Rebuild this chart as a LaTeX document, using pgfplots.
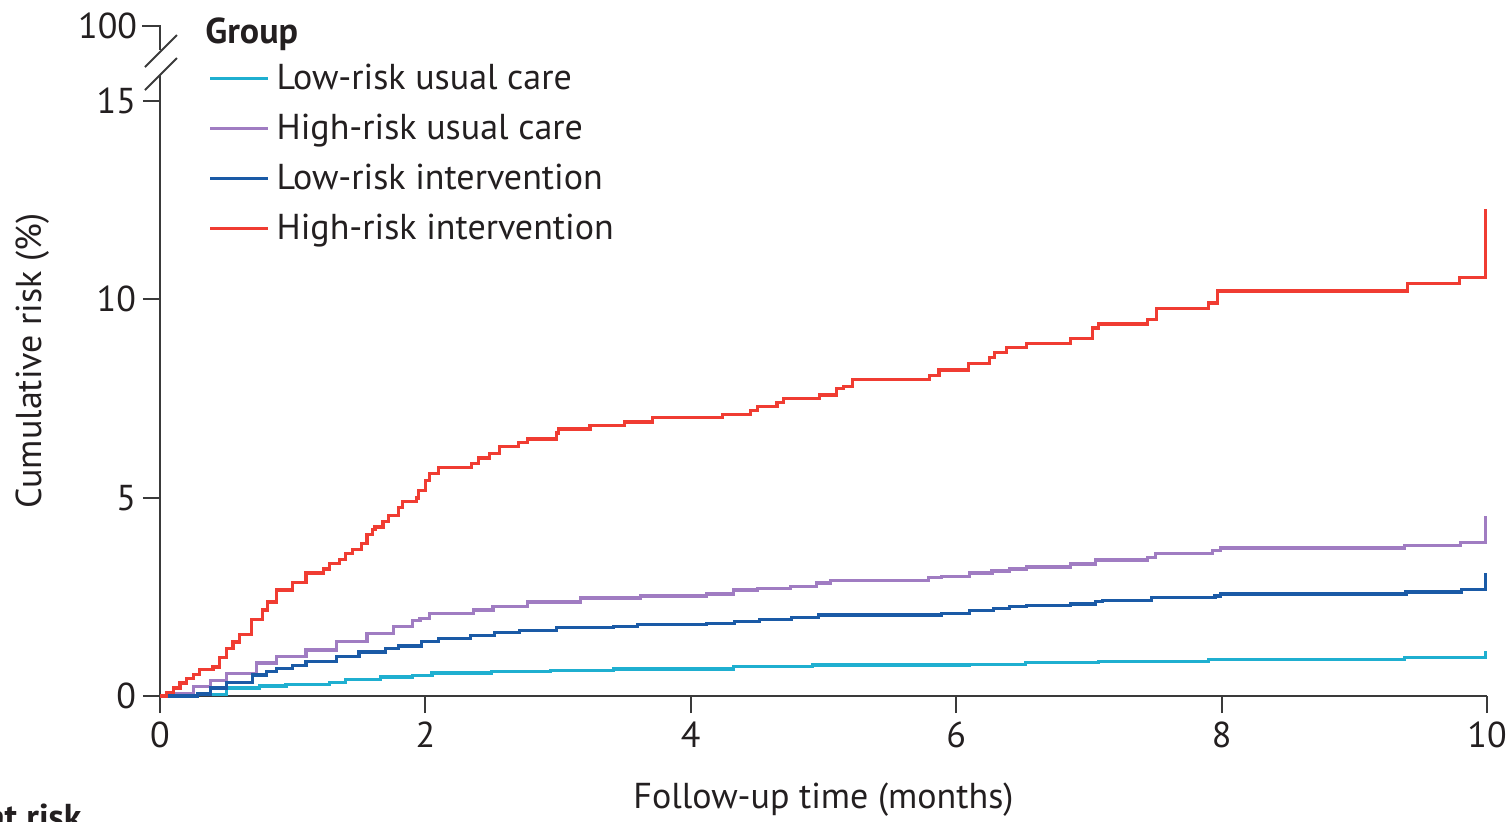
\documentclass[border=0pt]{standalone}
\usepackage{fontspec}
\setmainfont{PT Sans}
\usepackage{pgfplots}
\usepackage{pgfplotstable}
\pgfplotsset{compat=1.18}
\definecolor{axiscol}{HTML}{3A3A3A}
\definecolor{txtcol}{HTML}{231F20}
\definecolor{cLRU}{HTML}{1FAFD0}
\definecolor{cHRU}{HTML}{A07CC2}
\definecolor{cLRI}{HTML}{1A5AA6}
\definecolor{cHRI}{HTML}{F03C32}

\pgfplotstableread{
t v
0 0
0.28 0.04
0.5 0.2
0.75 0.25
0.95 0.3
1.28 0.35
1.4 0.42
1.66 0.48
1.9 0.52
2.05 0.58
2.5 0.61
2.94 0.65
3.42 0.68
4.32 0.74
4.92 0.78
6.1 0.8
6.52 0.84
7.07 0.86
7.5 0.88
7.9 0.93
9.38 0.97
9.99 1.13
}\lowusual

\pgfplotstableread{
t v
0 0
0.12 0.06
0.25 0.23
0.38 0.4
0.5 0.57
0.73 0.83
0.88 0.99
1.1 1.16
1.33 1.37
1.56 1.58
1.76 1.75
1.9 1.9
1.96 1.96
2.03 2.08
2.36 2.17
2.51 2.25
2.77 2.37
3.17 2.47
3.62 2.52
4.12 2.57
4.32 2.67
4.5 2.72
4.75 2.77
4.95 2.85
5.05 2.92
5.79 2.98
5.89 3.02
6.1 3.1
6.27 3.15
6.4 3.2
6.53 3.25
6.86 3.33
7.05 3.43
7.44 3.5
7.5 3.6
7.93 3.66
7.99 3.73
9.38 3.8
9.8 3.86
9.99 4.55
}\highusual

\pgfplotstableread{
t v
0 0
0.28 0.05
0.38 0.2
0.5 0.35
0.7 0.53
0.8 0.61
0.88 0.7
1.0 0.76
1.1 0.86
1.33 0.99
1.5 1.11
1.7 1.2
1.8 1.26
1.97 1.37
2.1 1.45
2.34 1.53
2.52 1.6
2.71 1.66
2.99 1.73
3.42 1.76
3.6 1.8
4.12 1.83
4.33 1.87
4.52 1.93
4.76 1.98
4.96 2.04
5.89 2.09
6.1 2.15
6.28 2.21
6.4 2.25
6.53 2.29
6.86 2.32
7.05 2.38
7.1 2.4
7.47 2.48
7.95 2.52
7.99 2.57
9.39 2.62
9.81 2.69
9.99 3.1
}\lowint

\pgfplotstableread{
t v
0 0
0.05 0.08
0.1 0.2
0.15 0.33
0.2 0.45
0.25 0.55
0.3 0.66
0.4 0.73
0.45 0.98
0.5 1.2
0.55 1.36
0.6 1.56
0.69 1.92
0.77 2.17
0.81 2.37
0.88 2.67
1.0 2.87
1.1 3.1
1.23 3.2
1.28 3.35
1.35 3.45
1.4 3.6
1.45 3.7
1.52 3.85
1.56 4.08
1.6 4.2
1.62 4.26
1.68 4.4
1.72 4.56
1.8 4.75
1.83 4.9
1.93 4.99
1.95 5.19
2.0 5.44
2.03 5.6
2.1 5.77
2.35 5.87
2.4 6.0
2.48 6.12
2.56 6.3
2.7 6.4
2.77 6.48
2.99 6.63
3.0 6.73
3.24 6.81
3.5 6.91
3.71 7.02
4.24 7.1
4.45 7.2
4.5 7.29
4.65 7.4
4.7 7.5
4.97 7.59
5.1 7.75
5.15 7.81
5.22 7.97
5.8 8.07
5.87 8.22
6.09 8.39
6.25 8.53
6.29 8.65
6.38 8.78
6.53 8.89
6.86 9.02
7.03 9.28
7.07 9.38
7.44 9.5
7.51 9.77
7.9 9.91
7.97 10.21
9.4 10.4
9.79 10.55
9.99 12.28
}\highint

\begin{document}
\begin{tikzpicture}[font=\fontsize{18}{21}\selectfont, text=txtcol]
\useasboundingbox (0,0) rectangle (754pt,410.5pt);
\clip (0,0) rectangle (754pt,410.5pt);
\begin{axis}[
  at={(80pt,62.5pt)}, anchor=south west,
  scale only axis, width=663.5pt, height=297.5pt,
  xmin=0, xmax=10, ymin=0, ymax=15,
  axis x line=bottom, axis y line=left,
  axis line style={-, line width=1pt, color=axiscol},
  every tick/.style={line width=1pt, color=axiscol},
  tick align=outside, major tick length=8.5pt,
  xtick={0,2,4,6,8,10}, ytick={0,5,10,15},
  minor tick num=0,
  /pgf/number format/assume math mode=true,
  ticklabel style={font=\fontsize{18}{21}\selectfont, text=txtcol},
  xticklabel style={yshift=-1pt},
  clip=false,
  xlabel={Follow-up time (months)},
  ylabel={Cumulative risk (\%)},
  xlabel style={at={(axis description cs:0.5,-0.175)}, anchor=center},
  ylabel style={at={(axis description cs:-0.0957,0.563)}, anchor=center},
  legend cell align=left,
  legend style={draw=none, fill=none, inner sep=0pt,
    at={(axis description cs:0.0362,1.068)}, anchor=north west,
    row sep=7.8pt, font=\fontsize{18}{21}\selectfont,
    nodes={inner sep=1.5pt, text=txtcol}},
  legend image code/.code={\draw[#1] (0pt,0pt) -- (29pt,0pt); \path (31pt,0pt);},
  every axis plot/.append style={line width=1.6pt, const plot, no marks},
]
\addplot[cLRU] table[x=t,y=v] {\lowusual};
\addlegendentry{Low-risk usual care}
\addplot[cHRU] table[x=t,y=v] {\highusual};
\addlegendentry{High-risk usual care}
\addplot[cLRI] table[x=t,y=v] {\lowint};
\addlegendentry{Low-risk intervention}
\addplot[cHRI] table[x=t,y=v] {\highint};
\addlegendentry{High-risk intervention}
% axis break
\draw[line width=1pt, axiscol] (axis cs:0,15) -- (axis cs:0,15.654);
\draw[line width=1pt, axiscol] (axis cs:-0.113,15.276) -- (axis cs:0.128,16.083);
\draw[line width=1pt, axiscol] (axis cs:-0.113,15.856) -- (axis cs:0.128,16.663);
\draw[line width=1pt, axiscol] (axis cs:0,16.28) -- (axis cs:0,16.889) -- (axis cs:-0.1356,16.889);
\node[anchor=east, inner sep=0pt] at (axis cs:-0.17,16.889) {100};
\node[anchor=base west, inner sep=0pt] at (axis cs:0.339,16.46) {\bfseries Group};
\end{axis}
\node[anchor=base east, inner sep=0pt] at (41pt,-4pt) {\bfseries Number at risk};
\end{tikzpicture}
\end{document}
